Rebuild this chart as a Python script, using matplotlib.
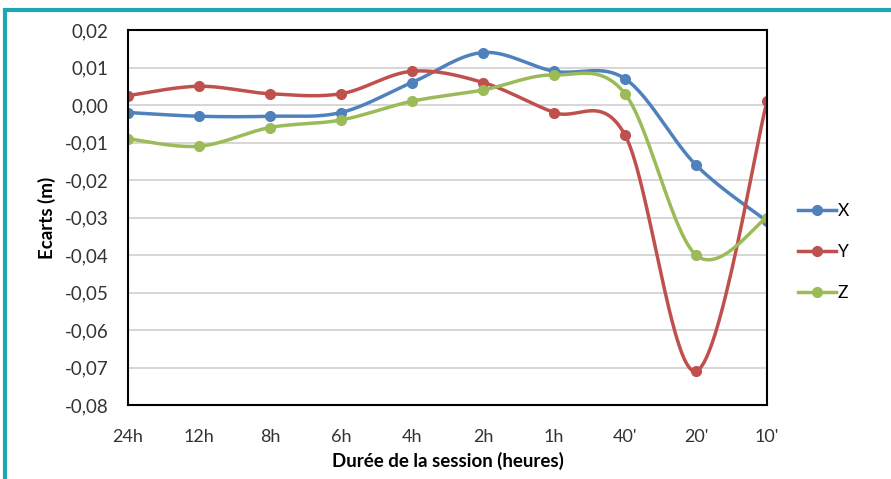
import numpy as np
import matplotlib.pyplot as plt
from matplotlib.patches import Rectangle
from matplotlib.ticker import FuncFormatter

categories = ["24h", "12h", "8h", "6h", "4h", "2h", "1h", "40'", "20'", "10'"]
x_vals = [-0.002, -0.003, -0.003, -0.002, 0.006, 0.014, 0.009, 0.007, -0.016, -0.031]
y_vals = [0.0025, 0.005, 0.003, 0.003, 0.009, 0.006, -0.002, -0.008, -0.071, 0.001]
z_vals = [-0.009, -0.011, -0.006, -0.004, 0.001, 0.004, 0.008, 0.003, -0.040, -0.030]

series = [("X", x_vals, "#4F81BD"), ("Y", y_vals, "#C0504D"), ("Z", z_vals, "#9BBB59")]


def smooth(xs, ys, n=30):
    # Excel-like smoothed line: cubic Bezier segments, Catmull-Rom tangents
    xs = np.asarray(xs, float)
    ys = np.asarray(ys, float)
    px = np.concatenate([[xs[0]], xs, [xs[-1]]])
    py = np.concatenate([[ys[0]], ys, [ys[-1]]])
    t = np.linspace(0, 1, n)
    outx, outy = [], []
    for i in range(1, len(px) - 2):
        p0 = np.array([px[i], py[i]])
        p3 = np.array([px[i + 1], py[i + 1]])
        p1 = p0 + (np.array([px[i + 1], py[i + 1]]) - np.array([px[i - 1], py[i - 1]])) / 6
        p2 = p3 - (np.array([px[i + 2], py[i + 2]]) - np.array([px[i], py[i]])) / 6
        b = ((1 - t) ** 3)[:, None] * p0 + (3 * (1 - t) ** 2 * t)[:, None] * p1 \
            + (3 * (1 - t) * t ** 2)[:, None] * p2 + (t ** 3)[:, None] * p3
        outx.extend(b[:, 0])
        outy.extend(b[:, 1])
    return outx, outy


plt.rcParams['font.family'] = ['Lato', 'DejaVu Sans']

fig = plt.figure(figsize=(8.91, 4.79), dpi=100)
ax = fig.add_axes([128 / 891, 1 - 405 / 479, (767 - 128) / 891, (405 - 30) / 479])

pos = np.arange(len(categories))
for name, vals, color in series:
    sx, sy = smooth(pos, vals)
    ax.plot(sx, sy, color=color, lw=2.5, solid_capstyle='round')
    ax.plot(pos, vals, 'o', color=color, ms=7, label=name)

ax.set_xlim(0, len(categories) - 1)
ax.set_ylim(-0.08, 0.02)
ax.set_yticks(np.arange(-0.08, 0.0201, 0.01))
ax.yaxis.set_major_formatter(FuncFormatter(lambda v, p: f"{v:.2f}".replace(".", ",").replace("-0,00", "0,00")))
ax.set_xticks(pos)
ax.set_xticklabels(categories)
ax.grid(axis='y', color='#D0D0D0', lw=1.2)
ax.set_axisbelow(True)
for s in ax.spines.values():
    s.set_color('black')
    s.set_linewidth(1.5)
ax.tick_params(axis='both', length=0, colors='#333333')
ax.tick_params(axis='x', pad=17, labelsize=13)
ax.tick_params(axis='y', pad=14, labelsize=13.5)

ax.set_ylabel("Ecarts (m)", fontsize=13.5, fontweight='bold', labelpad=6)
ax.set_xlabel("Durée de la session (heures)", fontsize=13.5, fontweight='bold', labelpad=5)

handles = [plt.Line2D([], [], color=c, lw=2.5, marker='o', ms=7) for _, _, c in series]
fig.legend(handles, [n for n, _, _ in series], loc='center left',
           bbox_to_anchor=(782 / 891, 1 - 252 / 479), frameon=False,
           fontsize=12.5, handlelength=2.2, handletextpad=0.1, labelspacing=1.45)

fig.patches.append(Rectangle((5 / 891, -0.05), 1.1, 1 - 10 / 479 + 0.05, transform=fig.transFigure,
                             fill=False, edgecolor='#1BA8B0', lw=3, clip_on=False))

fig.savefig("out.png", dpi=100)
